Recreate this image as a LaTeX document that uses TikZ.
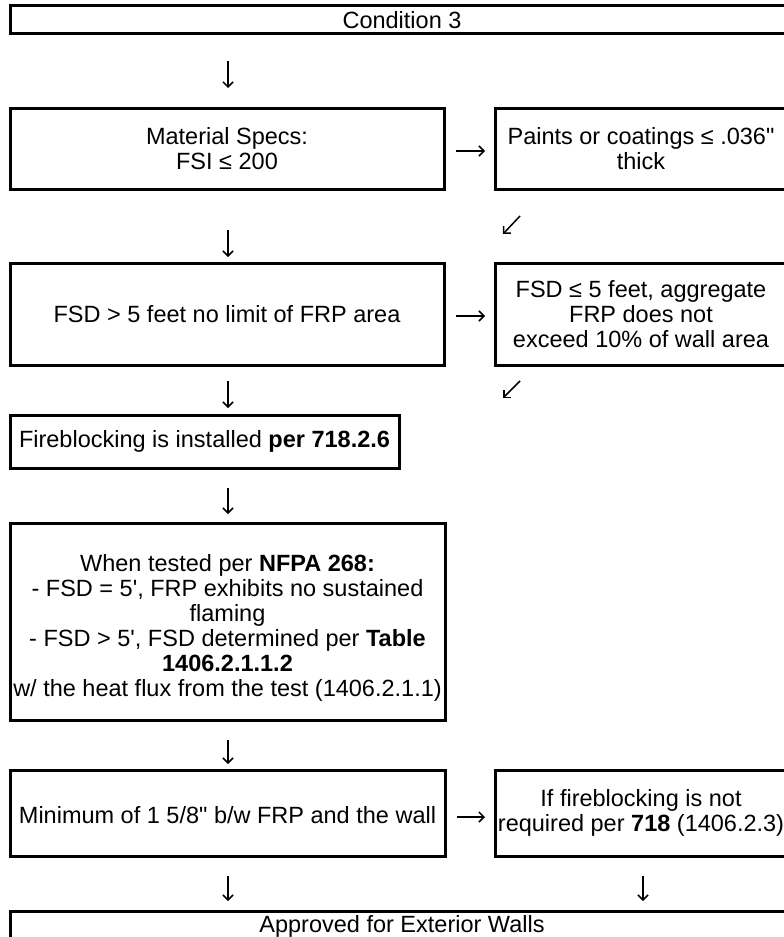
\documentclass[tikz,border=0pt]{standalone}
\usepackage{fontspec}
\setmainfont{Liberation Sans}[Ligatures=TeXOff]
\usetikzlibrary{arrows.meta}
\tikzset{
  txt/.style={inner sep=0pt, align=center, font=\fontsize{23.5pt}{25pt}\selectfont},
  box/.style={txt, draw=black, line width=3pt, anchor=center},
  conn/.style={line width=1.5pt, -{Straight Barb[length=5pt,width=10pt,line width=1.5pt]}},
}
\begin{document}
\begin{tikzpicture}[x=1pt,y=-1pt]
\useasboundingbox (0,0) rectangle (784,937);
\clip (0,0) rectangle (784,937);
% boxes
\node[box, minimum width=784pt, minimum height=28pt] (top) at (402,19) {};
\node[txt] (topt) at (402,20) {Condition 3};
\node[box, minimum width=434pt, minimum height=81pt] (ms) at (227,148.5) {Material Specs:\\FSI ≤ 200};
\node[box, minimum width=292pt, minimum height=81pt] (paint) at (641,148.5) {Paints or coatings ≤ .036"\\thick};
\node[box, minimum width=434pt, minimum height=102pt] (fsdg) at (227,314) {FSD > 5 feet no limit of FRP area};
\node[box, minimum width=292pt, minimum height=102pt] (fsdl) at (641,314) {FSD ≤ 5 feet, aggregate\\FRP does not\\exceed 10\% of wall area};
\node[box, minimum width=389pt, minimum height=53pt] (fire) at (204.5,441.5) {Fireblocking is installed \textbf{per 718.2.6}};
\node[box, minimum width=435pt, minimum height=197pt] (nfpa) at (227.5,621.5) {};
\node[txt] (nfpat) at (227.5,628) {When tested per \textbf{NFPA 268:}\\- FSD = 5', FRP exhibits no sustained\\flaming\\- FSD > 5', FSD determined per \textbf{Table}\\\textbf{1406.2.1.1.2}\\w/ the heat flux from the test (1406.2.1.1)};
\node[box, minimum width=435pt, minimum height=86pt] (mini) at (227.5,813) {};
\node[txt] (minit) at (227.5,815) {Minimum of 1 5/8" b/w FRP and the wall};
\node[box, minimum width=292pt, minimum height=86pt] (iffb) at (641,813) {If fireblocking is not\\required per \textbf{718} (1406.2.3)};
\node[box, minimum width=784pt, minimum height=30pt, anchor=north] (appr) at (402,910) {};
\node[txt] (apprt) at (402,926) {Approved for Exterior Walls};
% arrow coordinates
\coordinate (a1s) at (228,61);  \coordinate (a1e) at (228,88);
\coordinate (a2s) at (456,151); \coordinate (a2e) at (485,151);
\coordinate (a3s) at (228,230); \coordinate (a3e) at (228,257);
\coordinate (a4s) at (520,216); \coordinate (a4e) at (503,234);
\coordinate (a5s) at (456,316); \coordinate (a5e) at (485,316);
\coordinate (a6s) at (228,381); \coordinate (a6e) at (228,408);
\coordinate (a7s) at (520,381); \coordinate (a7e) at (503,398);
\coordinate (a8s) at (228,488); \coordinate (a8e) at (228,514);
\coordinate (a9s) at (228,740); \coordinate (a9e) at (228,764);
\coordinate (a10s) at (457,817); \coordinate (a10e) at (485,817);
\coordinate (a11s) at (228,876); \coordinate (a11e) at (228,901);
\coordinate (a12s) at (643,876); \coordinate (a12e) at (643,901);
\foreach \i in {1,...,12} { \draw[conn] (a\i s) -- (a\i e); }
\end{tikzpicture}
\end{document}
